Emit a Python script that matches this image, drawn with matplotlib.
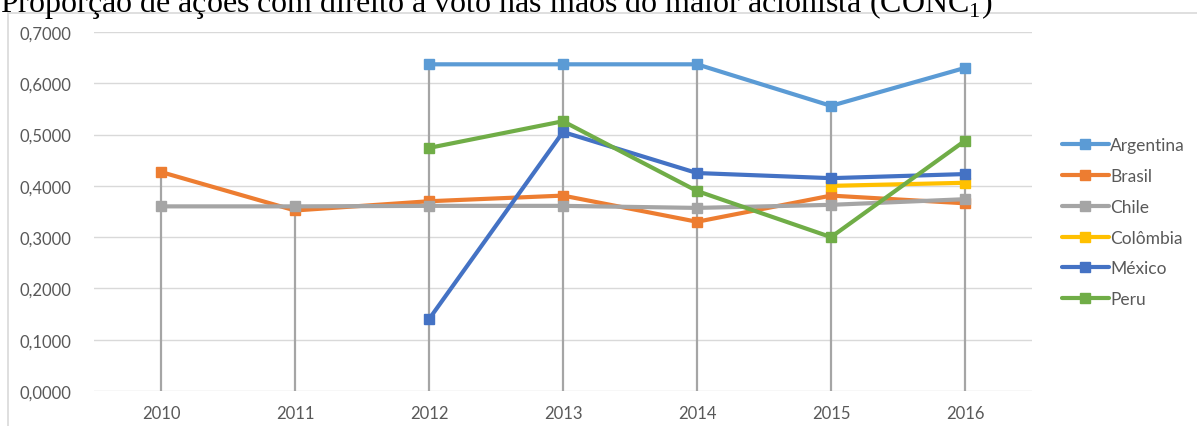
"""Line chart: share of voting stock held by the largest shareholder (CONC1)."""

import matplotlib

matplotlib.use("Agg")
import matplotlib.pyplot as plt
import numpy as np
from matplotlib.patches import Rectangle
from matplotlib.ticker import FuncFormatter

nan = np.nan

years = ["2010", "2011", "2012", "2013", "2014", "2015", "2016"]

argentina = [nan, nan, 0.637, 0.637, 0.637, 0.556, 0.630]
brasil = [0.427, 0.352, 0.370, 0.381, 0.330, 0.381, 0.366]
chile = [0.360, 0.360, 0.361, 0.361, 0.357, 0.363, 0.374]
colombia = [nan, nan, nan, nan, nan, 0.400, 0.406]
mexico = [nan, nan, 0.140, 0.505, 0.425, 0.415, 0.423]
peru = [nan, nan, 0.474, 0.526, 0.390, 0.300, 0.488]

series_names = ["Argentina", "Brasil", "Chile", "Colômbia", "México", "Peru"]
series_values = [argentina, brasil, chile, colombia, mexico, peru]
series_colors = ["#5B9BD5", "#ED7D31", "#A5A5A5", "#FFC000", "#4472C4", "#70AD47"]

title = "Proporção de ações com direito a voto nas mãos do maior acionista (CONC$_1$)"

plt.rcParams["mathtext.fontset"] = "custom"
plt.rcParams["mathtext.rm"] = "Liberation Serif"

W, H = 1197, 427
fig = plt.figure(figsize=(W / 100, H / 100), dpi=100)
ax = fig.add_axes([94 / W, 1 - 392 / H, (1032 - 94) / W, (392 - 33) / H])

# chart area frame
fig.patches.append(
    Rectangle((8 / W, -0.05), 1.2, 1 - 14 / H + 0.05, transform=fig.transFigure,
              fill=False, edgecolor="#d9d9d9", lw=1.2)
)

fig.text(0.0, 1 - 12 / H, title, family="Liberation Serif", fontsize=23,
         ha="left", va="baseline", color="black")

x = np.arange(len(years))
data = np.array(series_values, dtype=float)

# drop lines up to the highest point of each year
tops = np.nanmax(data, axis=0)
ax.vlines(x, 0, tops, color="#a5a5a5", lw=1.6, zorder=2)

for name, vals, color in zip(series_names, series_values, series_colors):
    ax.plot(x, vals, color=color, lw=3.0, marker="s", markersize=6.5,
            solid_joinstyle="round", solid_capstyle="round", label=name, zorder=3)

ax.set_xlim(-0.5, len(years) - 0.5)
ax.set_ylim(0, 0.7)
ax.set_yticks(np.arange(0, 0.71, 0.1))
ax.yaxis.set_major_formatter(FuncFormatter(lambda v, _: f"{v:.4f}".replace(".", ",")))
ax.set_xticks(x)
ax.set_xticklabels(years)
ax.grid(axis="y", color="#d9d9d9", lw=1.0)
ax.set_axisbelow(True)
for spine in ax.spines.values():
    spine.set_visible(False)
ax.tick_params(length=0, labelsize=12, labelcolor="#595959")
ax.tick_params(axis="y", pad=16)
ax.tick_params(axis="x", pad=10)
for lbl in ax.get_xticklabels() + ax.get_yticklabels():
    lbl.set_family("Lato")

leg = ax.legend(loc="center left", bbox_to_anchor=(1.015, 0.47), frameon=False,
                prop={"family": "Lato", "size": 12.5}, handlelength=2.7,
                handletextpad=0.1, labelspacing=0.85, labelcolor="#595959")

fig.savefig("out.png", dpi=100)
